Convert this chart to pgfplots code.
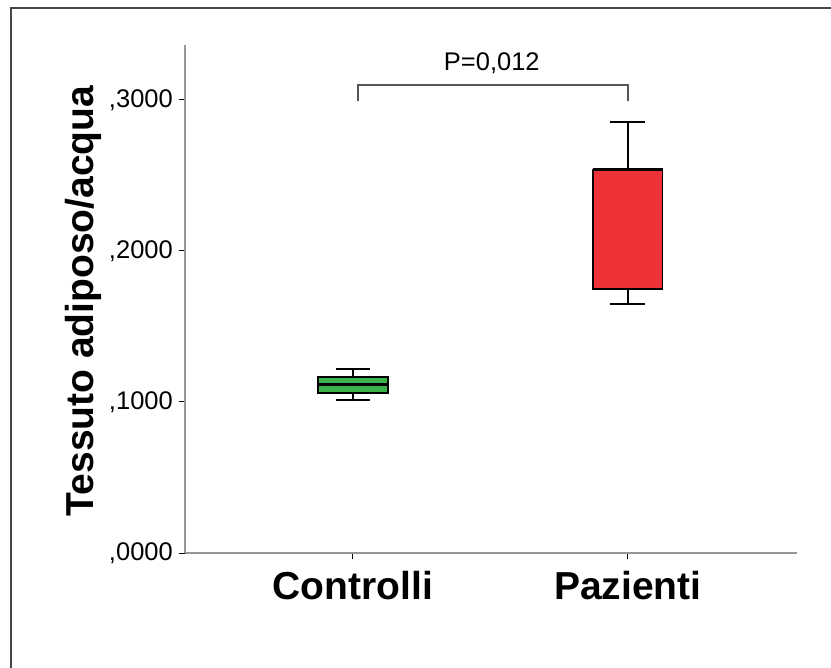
\documentclass[border=0pt]{standalone}
\usepackage{fontspec}
\setmainfont{Liberation Sans}
\usepackage{pgfplots}
\pgfplotsset{compat=1.18}
\definecolor{boxgreen}{RGB}{59,178,74}
\definecolor{boxred}{RGB}{237,50,55}
\definecolor{axgray}{RGB}{150,150,150}
\definecolor{framegray}{RGB}{70,70,70}
\definecolor{brgray}{RGB}{85,85,85}
\begin{document}
\begin{tikzpicture}
\path[use as bounding box] (0bp,0bp) rectangle (831bp,668bp);
\draw[framegray, line width=2bp] (11bp,0bp) -- (11bp,660bp) -- (831bp,660bp);
\begin{axis}[
  at={(185bp,115bp)}, anchor=south west,
  scale only axis, width=612bp, height=508bp,
  xmin=-0.611, xmax=1.615, ymin=0, ymax=0.3364,
  axis x line=bottom, axis y line=left,
  axis line style={-, axgray, line width=2bp},
  tick align=outside, major tick length=6bp,
  tick style={black, line width=1bp},
  xtick={0,1}, xticklabels={Controlli,Pazienti},
  xticklabel style={anchor=base, yshift=-40bp, font=\bfseries\fontsize{39bp}{46bp}\selectfont},
  ytick={0,0.1,0.2,0.3},
  yticklabels={{,0000},{,1000},{,2000},{,3000}},
  yticklabel style={anchor=east, inner sep=0pt, xshift=-6bp, font=\fontsize{25.5bp}{30bp}\selectfont},
  ylabel={Tessuto adiposo/acqua},
  ylabel style={at={(axis description cs:-0.1503,0.496)}, anchor=base, font=\bfseries\fontsize{39bp}{46bp}\selectfont},
  clip=false,
]
% Controlli: whiskers 0.1013 / 0.1219, quartiles 0.1060 / 0.1166, median 0.1113
\addplot[black, line width=1.3bp] coordinates {(0,0.1060) (0,0.1013)};
\addplot[black, line width=1.3bp] coordinates {(-0.0636,0.1013) (0.0636,0.1013)};
\addplot[black, line width=1.3bp] coordinates {(0,0.1166) (0,0.1219)};
\addplot[black, line width=1.3bp] coordinates {(-0.0636,0.1219) (0.0636,0.1219)};
\addplot[fill=boxgreen, draw=black, line width=1.3bp] coordinates {(-0.127,0.1060) (0.127,0.1060) (0.127,0.1166) (-0.127,0.1166)} -- cycle;
\addplot[black, line width=3bp] coordinates {(-0.127,0.1113) (0.127,0.1113)};
% Pazienti: whiskers 0.1649 / 0.2854, quartiles 0.1748 / 0.2540, median 0.2540
\addplot[black, line width=1.3bp] coordinates {(1,0.1748) (1,0.1649)};
\addplot[black, line width=1.3bp] coordinates {(0.9364,0.1649) (1.0636,0.1649)};
\addplot[black, line width=1.3bp] coordinates {(1,0.2540) (1,0.2854)};
\addplot[black, line width=1.3bp] coordinates {(0.9364,0.2854) (1.0636,0.2854)};
\addplot[fill=boxred, draw=black, line width=1.3bp] coordinates {(0.873,0.1748) (1.127,0.1748) (1.127,0.2540) (0.873,0.2540)} -- cycle;
\addplot[black, line width=3bp] coordinates {(0.873,0.2540) (1.127,0.2540)};
% significance bracket
\draw[brgray, line width=1.3bp] (axis cs:0.018,0.2993) -- (axis cs:0.018,0.3099) -- (axis cs:1,0.3099) -- (axis cs:1,0.2993);
\node[anchor=base, font=\fontsize{25.5bp}{30bp}\selectfont] at (axis cs:0.505,0.3192) {P=0,012};
\end{axis}
\end{tikzpicture}
\end{document}
